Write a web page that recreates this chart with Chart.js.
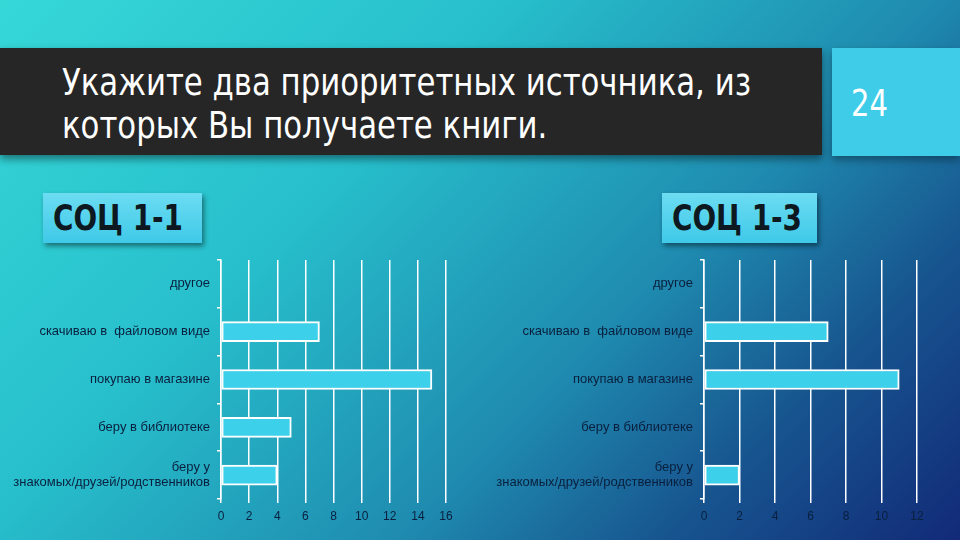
<!DOCTYPE html>
<html>
<head>
<meta charset="utf-8">
<script src="https://cdn.jsdelivr.net/npm/chart.js@4"></script>
<style>
  html, body { margin: 0; padding: 0; }
  body {
    width: 960px; height: 540px; overflow: hidden; position: relative;
    background: linear-gradient(135deg, #36d8d8 0%, #27bfcc 34%, #1f8cb0 62%, #17558f 80%, #122a78 100%);
    font-family: "DejaVu Sans Condensed", "DejaVu Sans", sans-serif;
  }
  #banner {
    position: absolute; left: 0; top: 48px; width: 822px; height: 107px;
    background: #262626; box-shadow: 0 4px 8px rgba(0,0,0,0.45);
  }
  #title {
    position: absolute; left: 62px; top: 61px; color: #fff;
    font-size: 38px; line-height: 43px; white-space: nowrap;
    transform: scaleX(0.9); transform-origin: left top;
  }
  #num {
    position: absolute; left: 832px; top: 48px; width: 128px; height: 108px;
    background: #3ecce8; box-shadow: 0 4px 8px rgba(0,0,0,0.35);
  }
  #num span {
    position: absolute; left: 19px; top: 35px; color: #fff; font-size: 38px; line-height: 40px;
    display: inline-block; transform: scaleX(0.85); transform-origin: left top;
  }
  .tag {
    position: absolute; height: 50px;
    background: linear-gradient(#6cdcf2, #3fc9e8);
    box-shadow: 2px 3px 5px rgba(0,0,0,0.45);
  }
  .tag span {
    position: absolute; left: 10px; top: 5px; line-height: 40px; white-space: nowrap;
    color: #0d1820; font-size: 36px; font-weight: bold;
    font-family: "DejaVu Sans Condensed", "DejaVu Sans", sans-serif;
    display: inline-block; transform: scaleX(0.86); transform-origin: left top;
  }
  canvas { position: absolute; }
</style>
</head>
<body>
<div id="banner"></div>
<div id="title">Укажите два приоритетных источника, из<br>которых Вы получаете книги.</div>
<div id="num"><span>24</span></div>
<div class="tag" style="left:43px; top:193px; width:159px;"><span>СОЦ 1-1</span></div>
<div class="tag" style="left:662px; top:193px; width:155px;"><span>СОЦ 1-3</span></div>
<canvas id="c1" width="470" height="290" style="left:0; top:250px;"></canvas>
<canvas id="c2" width="480" height="290" style="left:480px; top:250px;"></canvas>
<script>
'use strict'
let categories = ['другое', 'скачиваю в  файловом виде', 'покупаю в магазине', 'беру в библиотеке', ['беру у', 'знакомых/друзей/родственников']];
let soc11 = [0, 7, 15, 5, 4];
let soc13 = [0, 7, 11, 0, 2];
let max11 = 16;
let max13 = 12;
let tickStep = 2;

let labelColor = '#0a1f3d';

function makeChart(id, values, maxVal, axisWidth, rightPad){
    let ctx = document.getElementById(id).getContext('2d');
    return new Chart(ctx, {
        type: 'bar',
        data: {
            labels: categories,
            datasets: [{
                data: values,
                backgroundColor: '#3dd0ea',
                borderColor: '#ffffff',
                borderWidth: 2,
                borderSkipped: false,
                barThickness: 20
            }]
        },
        options: {
            indexAxis: 'y',
            responsive: false,
            animation: false,
            layout: { padding: { top: 10, right: rightPad, left: 0, bottom: 0 } },
            plugins: { legend: { display: false }, tooltip: { enabled: false } },
            scales: {
                x: {
                    min: 0, max: maxVal,
                    ticks: { stepSize: tickStep, color: labelColor, padding: 6, font: { family: 'Liberation Sans', size: 12 } },
                    grid: { color: '#ffffff', lineWidth: 1.5, tickLength: 4 },
                    border: { display: false },
                    afterFit: function(scale){ scale.height = 41; }
                },
                y: {
                    ticks: { color: labelColor, padding: 7, font: { family: 'Liberation Sans', size: 13 } },
                    grid: { drawOnChartArea: false, color: '#ffffff', lineWidth: 1.5, tickLength: 4 },
                    border: { color: '#ffffff', width: 1.5 },
                    afterFit: function(scale){
                        scale.width = axisWidth;
                        scale.paddingTop = 0;
                        scale.paddingBottom = 0;
                    }
                }
            }
        }
    });
}

makeChart('c1', soc11, max11, 221, 24);
makeChart('c2', soc13, max13, 224, 43);
</script>
</body>
</html>
